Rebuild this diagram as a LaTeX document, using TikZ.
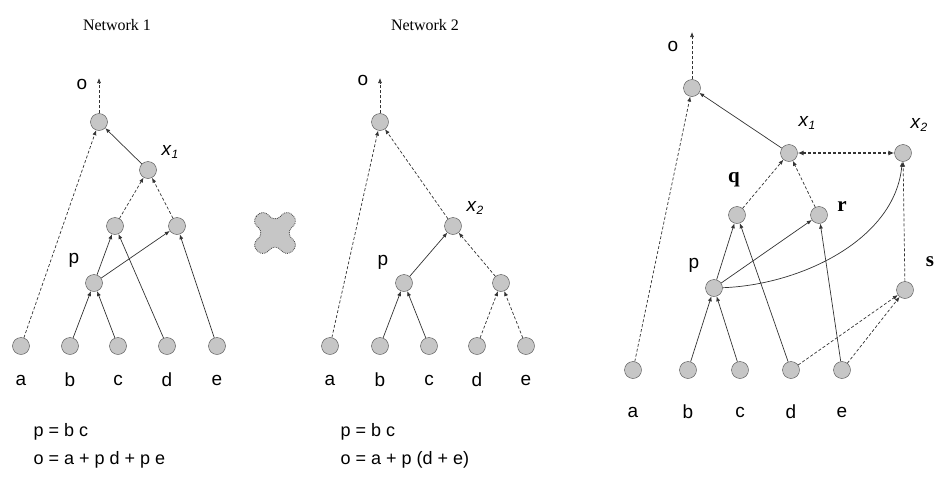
\documentclass[tikz,border=0pt]{standalone}
\usepackage{fontspec}
\setmainfont{Liberation Serif}
\setsansfont{Liberation Sans}
\usetikzlibrary{arrows.meta,shapes.geometric,calc}
\newcommand{\xlab}[1]{\textit{x}\raisebox{-0.35ex}{\fontsize{12}{12}\selectfont\textit{#1}}}
\begin{document}
\begin{tikzpicture}[x=1pt,y=-1pt,
 nd/.style={circle,draw=gray!60!black,fill=gray!45,minimum size=17pt,inner sep=0pt},
 lab/.style={font=\sffamily\fontsize{19}{19}\selectfont},
 blab/.style={font=\bfseries\fontsize{21}{21}\selectfont},
 ttl/.style={font=\fontsize{16}{16}\selectfont},
 frm/.style={font=\sffamily\fontsize{18}{22}\selectfont,anchor=west},
 s/.style={-{Latex[length=5pt,width=4pt]},black!80,line width=0.7pt},
 d/.style={s,dashed,dash pattern=on 3pt off 2pt}]
\useasboundingbox (0,0) rectangle (942,482);
% ---- Network 1
\node[ttl] at (117,25) {Network 1};
\foreach \n/\x in {a/21,b/70,c/118,d/167,e/217}{
 \node[nd] (A\n) at (\x,346) {};
 \node[lab] at (\x,380) {\n};}
\node[nd] (Ap) at (94,283) {};
\node[nd] (AL) at (115,226) {};
\node[nd] (AR) at (177,226) {};
\node[nd] (Ax) at (148,170) {};
\node[nd] (At) at (99,122) {};
\coordinate (Ao) at (99,78);
\node[lab] at (82,84) {o};
\node[lab] at (170,152) {\xlab{1}};
\node[lab] at (74,260) {p};
\draw[d] (Aa) -- (At); \draw[s] (Ax) -- (At); \draw[d] (At) -- (Ao);
\draw[d] (AL) -- (Ax); \draw[d] (AR) -- (Ax);
\draw[s] (Ap) -- (AL); \draw[s] (Ad) -- (AL); \draw[s] (Ap) -- (AR); \draw[s] (Ae) -- (AR);
\draw[s] (Ab) -- (Ap); \draw[s] (Ac) -- (Ap);
\node[frm] at (30,432) {p = b c};
\node[frm] at (30,460) {o = a + p d + p e};
% cross blob
\coordinate (X) at (275,233);
\filldraw[fill=gray!45,draw=gray!50!black,densely dotted,line width=0.8pt,rounded corners=7pt,rotate around={45:(X)}]
 ($(X)+(-8,-25)$) -- ($(X)+(8,-25)$) -- ($(X)+(8,-8)$) -- ($(X)+(25,-8)$) -- ($(X)+(25,8)$) -- ($(X)+(8,8)$)
 -- ($(X)+(8,25)$) -- ($(X)+(-8,25)$) -- ($(X)+(-8,8)$) -- ($(X)+(-25,8)$) -- ($(X)+(-25,-8)$) -- ($(X)+(-8,-8)$) -- cycle;
% ---- Network 2
\node[ttl] at (425,25) {Network 2};
\foreach \n/\x in {a/330,b/380,c/429,d/477,e/526}{
 \node[nd] (B\n) at (\x,346) {};
 \node[lab] at (\x,380) {\n};}
\node[nd] (Bp) at (404,283) {};
\node[nd] (Bq) at (501,283) {};
\node[nd] (Bx) at (453,226) {};
\node[nd] (Bt) at (380,122) {};
\coordinate (Bo) at (380,78);
\node[lab] at (363,80) {o};
\node[lab] at (475,208) {\xlab{2}};
\node[lab] at (383,262) {p};
\draw[d] (Ba) -- (Bt); \draw[d] (Bx) -- (Bt); \draw[d] (Bt) -- (Bo);
\draw[s] (Bp) -- (Bx); \draw[d] (Bq) -- (Bx);
\draw[s] (Bb) -- (Bp); \draw[s] (Bc) -- (Bp);
\draw[d] (Bd) -- (Bq); \draw[d] (Be) -- (Bq);
\node[frm] at (337,432) {p = b c};
\node[frm] at (337,460) {o = a + p (d + e)};
% ---- Right network
\foreach \n/\x in {a/633,b/688,c/740,d/791,e/842}{
 \node[nd] (C\n) at (\x,370) {};
 \node[lab] at (\x,412) {\n};}
\node[nd] (Cp) at (714,288) {};
\node[nd] (Cq) at (737,215) {};
\node[nd] (Cr) at (819,215) {};
\node[nd] (Cs) at (905,290) {};
\node[nd] (Cx) at (789,153) {};
\node[nd] (Cy) at (903,153) {};
\node[nd] (Ct) at (692,88) {};
\coordinate (Co) at (692,32);
\node[lab] at (673,46) {o};
\node[lab] at (807,123) {\xlab{1}};
\node[lab] at (919,125) {\xlab{2}};
\node[blab] at (734,180) {q};
\node[blab] at (842,207) {r};
\node[blab] at (930,262) {s};
\node[lab] at (694,265) {p};
\draw[d] (Ca) -- (Ct); \draw[s] (Cx) -- (Ct); \draw[d] (Ct) -- (Co);
\draw[d] (Cq) -- (Cx); \draw[d] (Cr) -- (Cx);
\draw[{Latex[length=6pt,width=5pt]}-{Latex[length=6pt,width=5pt]},black!80,line width=2pt,dash pattern=on 3pt off 2pt] (Cx) -- (Cy);
\draw[d] (Cs) -- (Cy);
\draw[s] (Cp) .. controls (800,285) and (895,240) .. (Cy);
\draw[s] (Cp) -- (Cr); \draw[s] (Cp) -- (Cq);
\draw[s] (Cd) -- (Cq); \draw[s] (Ce) -- (Cr);
\draw[s] (Cb) -- (Cp); \draw[s] (Cc) -- (Cp);
\draw[d] (Cd) -- (Cs); \draw[d] (Ce) -- (Cs);
\end{tikzpicture}
\end{document}
